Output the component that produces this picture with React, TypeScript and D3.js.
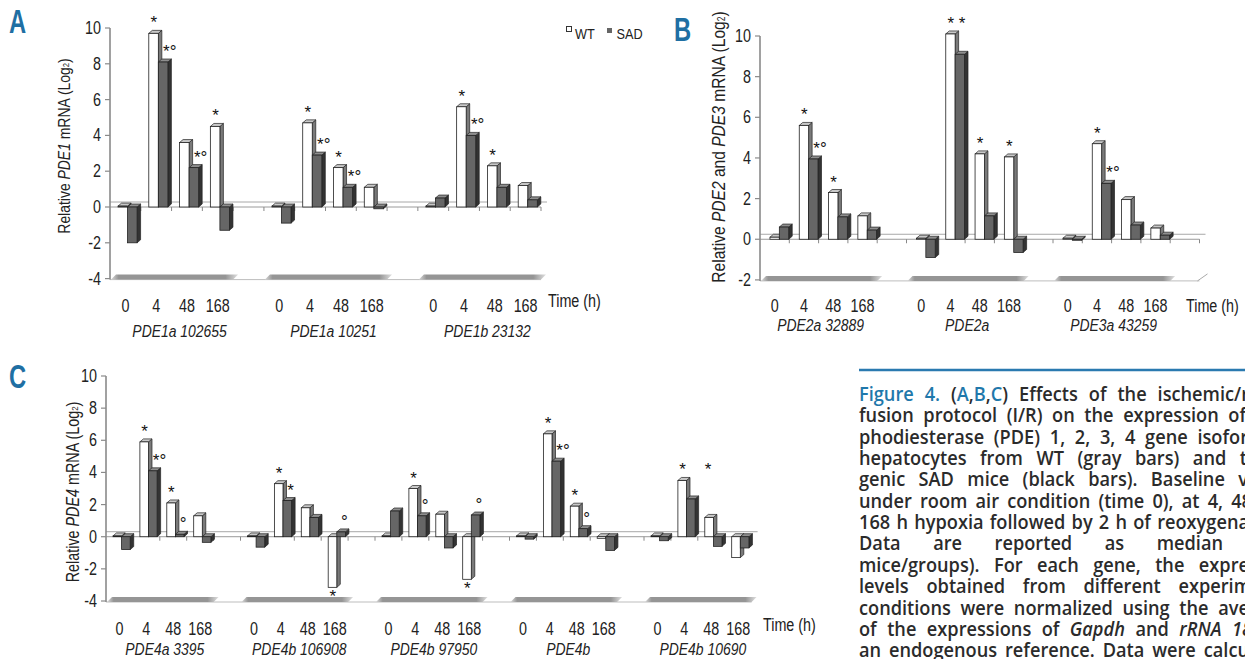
import React, { useEffect } from "react";
import * as d3 from "d3";

// ---------------- DATA ----------------
const timeLabels = ["0", "4", "48", "168"];

const genesA = ["PDE1a 102655", "PDE1a 10251", "PDE1b 23132"];
const wtA = [0.05, 9.7, 3.6, 4.5, 0.05, 4.7, 2.2, 1.1, 0.05, 5.6, 2.3, 1.2];
const sadA = [-2.0, 8.1, 2.2, -1.3, -0.9, 2.9, 1.1, -0.1, 0.5, 4.0, 1.1, 0.4];
const annWtA = ["", "*", "", "*", "", "*", "*", "", "", "*", "*", ""];
const annSadA = ["", "*°", "*°", "", "", "*°", "*°", "", "", "*°", "", ""];

const genesB = ["PDE2a 32889", "PDE2a", "PDE3a 43259"];
const wtB = [0.1, 5.6, 2.3, 1.15, 0.05, 10.1, 4.2, 4.05, 0.05, 4.7, 1.95, 0.55];
const sadB = [0.6, 3.95, 1.1, 0.45, -0.9, 9.1, 1.15, -0.65, -0.05, 2.75, 0.7, 0.2];
const annWtB = ["", "*", "*", "", "", "* *", "*", "*", "", "*", "", ""];
const annSadB = ["", "*°", "", "", "", "", "", "", "", "*°", "", ""];

const genesC = ["PDE4a 3395", "PDE4b 106908", "PDE4b 97950", "PDE4b", "PDE4b 10690"];
const wtC = [0.05, 5.9, 2.1, 1.3, 0.05, 3.3, 1.8, -3.15, 0.05, 3.0, 1.4, -2.65, 0.05, 6.4, 1.9, -0.1, 0.05, 3.5, 1.2, -1.3];
const sadC = [-0.8, 4.1, 0.15, -0.35, -0.65, 2.25, 1.2, 0.3, 1.6, 1.3, -0.7, 1.35, -0.15, 4.7, 0.5, -0.85, -0.25, 2.35, -0.6, -0.7];
const annWtC = ["", "*", "*", "", "", "*", "", "*", "", "*", "", "*", "", "*", "*", "", "", "*    *", "", ""];
const annSadC = ["", "*°", "°", "", "", "*", "", "°", "", "°", "", "°", "", "*°", "°", "", "", "", "", ""];

const seriesNames = ["WT", "SAD"];

const titleA: [string, string][] = [["Relative ", ""], ["PDE1", "i"], [" mRNA (Log", ""], ["2", "sub"], [")", ""]];
const titleB: [string, string][] = [["Relative ", ""], ["PDE2", "i"], [" and ", ""], ["PDE3", "i"], [" mRNA (Log", ""], ["2", "sub"], [")", ""]];
const titleC: [string, string][] = [["Relative ", ""], ["PDE4", "i"], [" mRNA (Log", ""], ["2", "sub"], [")", ""]];

const captionLines: [string, string][][] = [
  [["Figure 4. ", "b"], ["(", ""], ["A", "b"], [",", ""], ["B", "b"], [",", ""], ["C", "b"], [") Effects of the ischemic/r", ""]],
  [["fusion protocol (I/R) on the expression of", ""]],
  [["phodiesterase (PDE) 1, 2, 3, 4 gene isofor", ""]],
  [["hepatocytes from WT (gray bars) and t", ""]],
  [["genic SAD mice (black bars). Baseline v", ""]],
  [["under room air condition (time 0), at 4, 48", ""]],
  [["168 h hypoxia followed by 2 h of reoxygena", ""]],
  [["Data are reported as median", ""]],
  [["mice/groups). For each gene, the expre", ""]],
  [["levels obtained from different experim", ""]],
  [["conditions were normalized using the ave", ""]],
  [["of the expressions of ", ""], ["Gapdh", "i"], [" and ", ""], ["rRNA 18", "i"]],
  [["an endogenous reference. Data were calcu", ""]],
];
const captionEnds = [1249, 1246, 1248, 1247, 1248, 1252, 1249, 1223, 1249, 1251, 1249, 1252, 1249];

// ---------------- STYLE ----------------
const ARIAL = "'Liberation Sans', Arial, sans-serif";
const CAPTION_FONT = "'Open Sans', 'Noto Sans', sans-serif";
const BLUE = "#1f6fa3";
const TEXT = "#222";
const NARROW_K = 0.82;
const CAPTION_K = 0.91;
const CAPTION_X = 859;

// condensed text: Liberation Sans squeezed horizontally (Arial Narrow look)
function NT(props: {
  x: number; y: number; size: number; anchor?: string; italic?: boolean; bold?: boolean;
  fill?: string; rotate?: number; k?: number; baseline?: string; children: React.ReactNode;
}) {
  const k = props.k ?? NARROW_K;
  const rot = props.rotate ? ` rotate(${props.rotate})` : "";
  return (
    <text
      transform={`translate(${props.x},${props.y})${rot} scale(${k},1)`}
      textAnchor={props.anchor || "start"}
      dominantBaseline={props.baseline || "auto"}
      fontFamily={ARIAL}
      fontSize={props.size}
      fontStyle={props.italic ? "italic" : "normal"}
      fontWeight={props.bold ? "bold" : "normal"}
      fill={props.fill || TEXT}
      style={{ whiteSpace: "pre" }}
    >
      {props.children}
    </text>
  );
}

interface PanelProps {
  id: string;
  genes: string[];
  wt: number[];
  sad: number[];
  annWt: string[];
  annSad: string[];
  yDomain: [number, number];
  yRange: [number, number];
  xRange: [number, number];
  trailingGap: boolean;
  barOff: number;
  barW: number;
  title: [string, string][];
  titleX: number;
  titleY: number;
  titleSize: number;
  numBaseline: number;
  nameBaseline: number;
  nameDx: number;
  timeX: number;
  timeBaseline: number;
}

function bar3d(key: string, xl: number, w: number, v: number, y: d3.ScaleLinear<number, number>, dx: number, dy: number, front: string, topC: string, side: string) {
  const y0 = y(0);
  const yv = y(v);
  const top = Math.min(y0, yv);
  const bot = Math.max(y0, yv);
  const pts = (a: number[][]) => a.map((p) => p.join(",")).join(" ");
  return (
    <g key={key}>
      <polygon points={pts([[xl + w, top], [xl + w + dx, top + dy], [xl + w + dx, bot + dy], [xl + w, bot]])} fill={side} stroke="#222" strokeWidth={0.7} strokeLinejoin="round" />
      <polygon points={pts([[xl, top], [xl + dx, top + dy], [xl + w + dx, top + dy], [xl + w, top]])} fill={topC} stroke="#222" strokeWidth={0.7} strokeLinejoin="round" />
      <rect x={xl} y={top} width={w} height={Math.max(bot - top, 0.5)} fill={front} stroke="#222" strokeWidth={0.8} />
    </g>
  );
}

function Panel(p: PanelProps) {
  const slots: string[] = [];
  p.genes.forEach((g, gi) => {
    timeLabels.forEach((t) => slots.push(`${gi}|${t}`));
    if (gi < p.genes.length - 1 || p.trailingGap) slots.push(`${gi}|gap`);
  });
  const x = d3.scaleBand<string>().domain(slots).range(p.xRange).paddingInner(0).paddingOuter(0);
  const y = d3.scaleLinear().domain(p.yDomain).range(p.yRange);
  const bw = x.bandwidth();
  const w = bw * p.barW;
  const off = bw * p.barOff;
  const dx = 3.5;
  const dy = -3;
  const axisX = p.xRange[0];
  const xEnd = p.xRange[1];
  const y0 = y(0);
  const yB = y(p.yDomain[0]);
  const yTicks = d3.range(p.yDomain[0], p.yDomain[1] + 1, 2);

  const bars: JSX.Element[] = [];
  const anns: JSX.Element[] = [];
  p.genes.forEach((g, gi) => {
    timeLabels.forEach((t, ti) => {
      const idx = gi * timeLabels.length + ti;
      const xl = (x(`${gi}|${t}`) as number) + off;
      const vw = p.wt[idx];
      const vs = p.sad[idx];
      bars.push(bar3d(`w${idx}`, xl, w, vw, y, dx, dy, "#ffffff", "#c8c8c8", "#7a7a7a"));
      bars.push(bar3d(`s${idx}`, xl + w, w, vs, y, dx, dy, "#666666", "#8e8e8e", "#333333"));
      const aw = p.annWt[idx];
      if (aw) {
        const by = vw >= 0 ? y(vw) - 5 : y(vw) + 15;
        anns.push(
          <text key={`aw${idx}`} x={xl + w / 2 - 3} y={by} fontFamily={ARIAL} fontSize={17} fill="#111" style={{ whiteSpace: "pre" }}>{aw}</text>
        );
      }
      const as = p.annSad[idx];
      if (as) {
        const by = (vs >= 0 ? y(vs) : y0) - 5;
        anns.push(
          <text key={`as${idx}`} x={xl + w + w / 2} y={by} fontFamily={ARIAL} fontSize={17} fill="#111" style={{ whiteSpace: "pre" }}>{as}</text>
        );
      }
    });
  });

  const gradId = `floor-${p.id}`;
  return (
    <g>
      <defs>
        <linearGradient id={gradId} x1="0" x2="1" y1="0" y2="0">
          <stop offset="0" stopColor="#d8d8d8" />
          <stop offset="0.06" stopColor="#959595" />
          <stop offset="0.9" stopColor="#959595" />
          <stop offset="1" stopColor="#e0e0e0" />
        </linearGradient>
      </defs>
      {/* floor */}
      <line x1={axisX} x2={xEnd} y1={yB + 1} y2={yB + 1} stroke="#bdbdbd" strokeWidth={1} />
      {p.genes.map((g, gi) => {
        const xa = (x(`${gi}|${timeLabels[0]}`) as number) + 1;
        const xb = (x(`${gi}|${timeLabels[timeLabels.length - 1]}`) as number) + bw;
        return (
          <polygon key={g} points={`${xa},${yB + 1} ${xb},${yB + 1} ${xb + 5},${yB - 4} ${xa + 5},${yB - 4}`} fill={`url(#${gradId})`} />
        );
      })}
      {p.trailingGap && <line x1={xEnd - 2} y1={yB + 1} x2={xEnd + 8} y2={yB - 6} stroke="#aaa" strokeWidth={1} />}
      {/* zero planes */}
      <line x1={axisX} x2={xEnd + 6} y1={y0 - 5} y2={y0 - 5} stroke="#a8a8a8" strokeWidth={1} />
      <line x1={axisX} x2={xEnd} y1={y0} y2={y0} stroke="#9a9a9a" strokeWidth={1} />
      {d3.range(1, slots.length + 1).map((i) => {
        const xx = axisX + i * x.step();
        return <line key={i} x1={xx} x2={xx} y1={y0} y2={y0 + 4} stroke="#888" strokeWidth={1} />;
      })}
      {/* y axis */}
      <line x1={axisX} x2={axisX} y1={y(p.yDomain[1])} y2={yB + 1} stroke="#8a8a8a" strokeWidth={1.6} />
      {yTicks.map((t) => (
        <g key={t}>
          <line x1={axisX - 5} x2={axisX} y1={y(t)} y2={y(t)} stroke="#8a8a8a" strokeWidth={1.2} />
          <NT x={axisX - 9} y={y(t) + 6} size={17.5} anchor="end">{String(t)}</NT>
        </g>
      ))}
      {bars}
      {anns}
      {/* x labels */}
      {p.genes.map((g, gi) => (
        <g key={`lab${gi}`}>
          {timeLabels.map((t) => (
            <NT key={t} x={(x(`${gi}|${t}`) as number) + bw / 2} y={p.numBaseline} size={17.5} anchor="middle">{t}</NT>
          ))}
          <NT
            x={((x(`${gi}|${timeLabels[0]}`) as number) + (x(`${gi}|${timeLabels[3]}`) as number) + bw) / 2 + p.nameDx}
            y={p.nameBaseline}
            size={17}
            anchor="middle"
            italic
          >{g}</NT>
        </g>
      ))}
      <NT x={p.timeX} y={p.timeBaseline} size={17.5}>Time (h)</NT>
      {/* y title */}
      <NT x={p.titleX} y={p.titleY} rotate={-90} size={p.titleSize} anchor="middle" baseline="central">
        {p.title.map(([s, st], i) =>
          st === "sub" ? (
            <tspan key={i} fontSize={p.titleSize * 0.55} dy={3}>{s}</tspan>
          ) : (
            <tspan key={i} fontStyle={st === "i" ? "italic" : "normal"} dy={i > 0 && p.title[i - 1][1] === "sub" ? -3 : 0}>{s}</tspan>
          )
        )}
      </NT>
    </g>
  );
}

export default function App() {
  useEffect(() => {
    const nodes = document.querySelectorAll<SVGTextElement>("text[data-just]");
    nodes.forEach((n) => {
      const target = (+(n.getAttribute("data-just") as string) - CAPTION_X) / CAPTION_K;
      n.style.wordSpacing = "0px";
      const len = n.getComputedTextLength();
      const spaces = ((n.textContent || "").match(/ /g) || []).length;
      if (spaces) n.style.wordSpacing = `${(target - len) / spaces}px`;
    });
  }, []);

  return (
    <svg width={1245} height={659} style={{ position: "absolute", left: 0, top: 0, display: "block", background: "#fff" }}>
      <rect x={0} y={0} width={1245} height={659} fill="#fff" />
      {/* panel letters */}
      <NT x={9} y={33} size={33} bold fill={BLUE} k={0.72}>A</NT>
      <NT x={674} y={41} size={33} bold fill={BLUE} k={0.72}>B</NT>
      <NT x={9} y={388} size={33} bold fill={BLUE} k={0.72}>C</NT>

      <Panel id="A" genes={genesA} wt={wtA} sad={sadA} annWt={annWtA} annSad={annSadA}
        yDomain={[-4, 10]} yRange={[278.6, 28]} xRange={[110, 541]} trailingGap={false}
        barOff={0.26} barW={0.31} title={titleA} titleX={63} titleY={146} titleSize={17}
        numBaseline={312} nameBaseline={337} nameDx={8} timeX={548} timeBaseline={307} />
      <Panel id="B" genes={genesB} wt={wtB} sad={sadB} annWt={annWtB} annSad={annSadB}
        yDomain={[-2, 10]} yRange={[279.9, 36]} xRange={[760, 1199.5]} trailingGap={true}
        barOff={0.34} barW={0.32} title={titleB} titleX={718} titleY={147} titleSize={19}
        numBaseline={312} nameBaseline={331} nameDx={2} timeX={1186} timeBaseline={312} />
      <Panel id="C" genes={genesC} wt={wtC} sad={sadC} annWt={annWtC} annSad={annSadC}
        yDomain={[-4, 10]} yRange={[601, 376]} xRange={[106, 751.6]} trailingGap={false}
        barOff={0.26} barW={0.32} title={titleC} titleX={72} titleY={492} titleSize={17.5}
        numBaseline={635} nameBaseline={655} nameDx={5} timeX={763} timeBaseline={631} />

      {/* legend */}
      <rect x={566.5} y={26.5} width={5} height={5} fill="#fff" stroke="#333" strokeWidth={1} />
      <NT x={575} y={39} size={15.5}>{seriesNames[0]}</NT>
      <rect x={607} y={28} width={5} height={5} fill="#666" />
      <NT x={616.5} y={39} size={15.5}>{seriesNames[1]}</NT>

      {/* caption */}
      <line x1={CAPTION_X} x2={1245} y1={370} y2={370} stroke="#2a7ab0" strokeWidth={2.5} />
      {captionLines.map((segs, i) => (
        <text
          key={i}
          x={0}
          y={0}
          transform={`translate(${CAPTION_X},${401 + i * 21.35}) scale(${CAPTION_K},1)`}
          data-just={captionEnds[i]}
          fontFamily={CAPTION_FONT}
          fontWeight={600}
          fontSize={20}
          fill="#2b2b2b"
        >
          {segs.map(([s, st], j) => (
            <tspan key={j} fill={st === "b" ? "#1f78ab" : "#2b2b2b"} fontStyle={st === "i" ? "italic" : "normal"}>{s}</tspan>
          ))}
        </text>
      ))}
    </svg>
  );
}
